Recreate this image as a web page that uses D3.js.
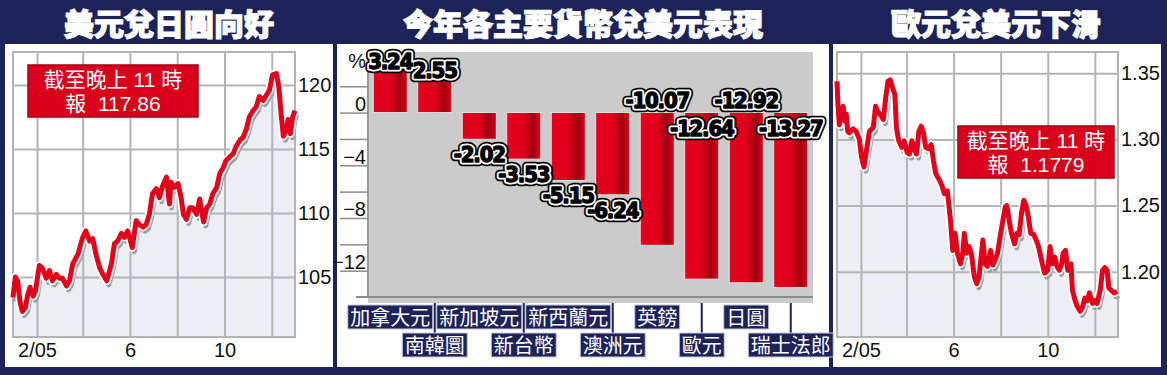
<!DOCTYPE html>
<html>
<head>
<meta charset="utf-8">
<script src="https://cdn.jsdelivr.net/npm/d3@7"></script>
<style>
  body { margin: 0; background: #fff; }
  svg { display: block; }
  text { font-family: "Liberation Sans", "Noto Sans CJK TC", sans-serif; }
</style>
</head>
<body>
<div id="chart"></div>
<script>
var titles = ['美元兌日圓向好', '今年各主要貨幣兌美元表現', '歐元兌美元下滑'];

// USD/JPY 2005
var jpyDates = ['01-01', '01-04', '01-07', '01-10', '01-13', '01-17', '01-20', '01-23', '01-27', '01-30',
    '02-04', '02-08', '02-13', '02-17', '02-21', '02-26', '03-02', '03-06', '03-11', '03-15',
    '03-19', '03-26', '04-01', '04-05', '04-10', '04-14', '04-18', '04-23', '04-27', '05-02',
    '05-08', '05-12', '05-16', '05-21', '05-25', '05-29', '06-04', '06-09', '06-13', '06-18',
    '06-22', '06-26', '06-30', '07-05', '07-09', '07-13', '07-18', '07-22', '07-24', '07-28',
    '08-02', '08-06', '08-09', '08-13', '08-17', '08-21', '08-26', '08-30', '09-04', '09-08',
    '09-12', '09-16', '09-21', '09-25', '09-29', '10-03', '10-08', '10-12', '10-16', '10-21',
    '10-25', '10-29', '11-02', '11-07', '11-11', '11-15', '11-20', '11-24', '11-28', '12-02',
    '12-07', '12-10', '12-13', '12-16', '12-20', '12-22', '12-25', '12-28', '12-31'];
var jpyValues = [103.4, 105.0, 104.7, 103.1, 102.3, 102.6, 103.6, 104.2, 103.5, 103.9,
    105.9, 105.7, 104.9, 105.5, 104.7, 105.2, 104.9, 104.9, 104.3, 104.7,
    106.0, 106.8, 108.1, 108.6, 107.8, 108.0, 106.8, 105.7, 105.2, 104.7,
    106.0, 107.6, 107.8, 108.4, 108.1, 108.6, 107.3, 109.4, 109.1, 108.9,
    109.1, 109.9, 111.5, 111.9, 111.2, 112.1, 112.8, 110.7, 112.4, 112.0,
    112.3, 111.2, 109.9, 109.5, 110.4, 110.4, 109.9, 111.1, 109.3, 110.4,
    110.7, 111.5, 112.0, 113.1, 113.5, 114.1, 114.4, 114.6, 115.2, 115.7,
    115.9, 116.5, 117.5, 118.0, 118.3, 119.1, 118.8, 119.2, 119.6, 120.8,
    120.9, 119.9, 117.8, 116.0, 116.5, 117.3, 116.2, 117.5, 118.0];
var jpyTicks = [105, 110, 115, 120];

// EUR/USD 2005
var eurDates = ['01-01', '01-02', '01-04', '01-07', '01-09', '01-11', '01-13', '01-15', '01-17', '01-22',
    '01-26', '01-30', '02-02', '02-05', '02-08', '02-12', '02-17', '02-20', '02-23', '02-27',
    '03-02', '03-05', '03-08', '03-11', '03-14', '03-17', '03-19', '03-22', '03-26', '03-29',
    '04-02', '04-05', '04-08', '04-11', '04-14', '04-17', '04-20', '04-23', '04-26', '04-29',
    '05-03', '05-06', '05-09', '05-14', '05-17', '05-20', '05-24', '05-28', '05-31', '06-03',
    '06-06', '06-10', '06-13', '06-15', '06-18', '06-21', '06-24', '06-28', '07-01', '07-04',
    '07-09', '07-12', '07-15', '07-19', '07-22', '07-25', '07-28', '08-01', '08-04', '08-07',
    '08-09', '08-12', '08-15', '08-19', '08-22', '08-25', '08-28', '08-31', '09-03', '09-06',
    '09-09', '09-13', '09-16', '09-19', '09-21', '09-24', '09-27', '10-01', '10-04', '10-07',
    '10-10', '10-13', '10-16', '10-19', '10-21', '10-24', '10-27', '10-31', '11-02', '11-05',
    '11-08', '11-12', '11-15', '11-18', '11-21', '11-24', '11-28', '12-01', '12-04', '12-08',
    '12-11', '12-14', '12-17', '12-19', '12-22', '12-26', '12-30'];
var eurValues = [1.344, 1.329, 1.311, 1.321, 1.325, 1.314, 1.319, 1.306, 1.305, 1.308,
    1.306, 1.300, 1.286, 1.279, 1.291, 1.306, 1.309, 1.325, 1.321, 1.318,
    1.315, 1.331, 1.344, 1.345, 1.339, 1.334, 1.309, 1.299, 1.294, 1.299,
    1.290, 1.289, 1.299, 1.293, 1.289, 1.306, 1.310, 1.305, 1.294, 1.293,
    1.296, 1.284, 1.274, 1.269, 1.265, 1.259, 1.261, 1.239, 1.216, 1.229,
    1.214, 1.206, 1.214, 1.229, 1.214, 1.219, 1.214, 1.196, 1.191, 1.196,
    1.224, 1.206, 1.204, 1.216, 1.205, 1.209, 1.214, 1.229, 1.239, 1.249,
    1.250, 1.239, 1.229, 1.221, 1.229, 1.228, 1.244, 1.254, 1.250, 1.241,
    1.229, 1.228, 1.224, 1.219, 1.214, 1.206, 1.199, 1.201, 1.219, 1.206,
    1.211, 1.204, 1.201, 1.206, 1.214, 1.216, 1.201, 1.206, 1.186, 1.179,
    1.174, 1.170, 1.173, 1.180, 1.178, 1.184, 1.176, 1.178, 1.176, 1.186,
    1.201, 1.203, 1.201, 1.188, 1.186, 1.184, 1.185];
var eurTicks = [1.20, 1.25, 1.30, 1.35];

var monthLabels = ['2/05', '6', '10'];

// year-to-date change against USD, %
var currencies = ['加拿大元', '南韓圜', '新加坡元', '新台幣', '新西蘭元', '澳洲元', '英鎊', '歐元', '日圓', '瑞士法郎'];
var changes = [3.24, 2.55, -2.02, -3.53, -5.15, -6.24, -10.07, -12.64, -12.92, -13.27];
var changeTicks = [0, -4, -8, -12];

var navy = '#1d2259',
    red = '#e2001a',
    width = 1167,
    height = 375,
    parseDay = d3.timeParse('%Y-%m-%d');

var svg = d3.select('#chart').append('svg')
    .attr('width', width)
    .attr('height', height);

svg.append('rect')
    .attr('width', width)
    .attr('height', height)
    .attr('fill', navy);

var defs = svg.append('defs');
var grad = defs.append('linearGradient')
    .attr('id', 'barGrad')
    .attr('x1', 0).attr('x2', 1).attr('y1', 0).attr('y2', 0);
[[0, '#e4001c'], [0.5, '#e0001b'], [0.78, '#a0000f'], [0.92, '#c90019'], [1, '#de001b']].forEach(function(s) {
    grad.append('stop').attr('offset', s[0]).attr('stop-color', s[1]);
});

// white panel bodies and title text
var panels = [[5, 333], [337, 829], [833, 1161]];
var titleX = [169, 583, 996];

svg.selectAll('.panel')
    .data(panels)
    .enter().append('rect')
    .attr('class', 'panel')
    .attr('x', function(d) { return d[0]; })
    .attr('y', 44)
    .attr('width', function(d) { return d[1] - d[0]; })
    .attr('height', 323)
    .attr('fill', '#fff');

svg.selectAll('.title')
    .data(titles)
    .enter().append('text')
    .attr('class', 'title')
    .attr('x', function(d, i) { return titleX[i]; })
    .attr('y', 35)
    .attr('text-anchor', 'middle')
    .attr('fill', '#fff')
    .attr('stroke', '#fff')
    .attr('stroke-width', 1.2)
    .style('font-family', '"Noto Sans CJK TC", sans-serif')
    .style('font-weight', 900)
    .style('font-size', '30px')
    .text(function(d) { return d; });

function drawLinePanel(o) {
    var top = 52, bottom = 337;
    var g = svg.append('g');

    var x = d3.scaleTime()
        .domain([parseDay('2005-01-01'), parseDay('2005-12-31')])
        .range([o.left, o.right]);
    var y = d3.scaleLinear().domain(o.domain).range([bottom, top]);

    var data = o.dates.map(function(d, i) {
        return { date: parseDay('2005-' + d), value: o.values[i] };
    });

    g.append('path')
        .datum(data)
        .attr('fill', '#eceef3')
        .attr('d', d3.area()
            .x(function(d) { return x(d.date); })
            .y0(bottom)
            .y1(function(d) { return y(d.value); }));

    // grid
    var months = d3.timeMonth.range(parseDay('2005-02-01'), parseDay('2005-12-31'), 2);

    g.append('g')
        .attr('transform', 'translate(0,' + bottom + ')')
        .call(d3.axisBottom(x).tickValues(months).tickSize(-(bottom - top)).tickFormat(''))
        .call(function(a) {
            a.select('.domain').remove();
            a.selectAll('line').attr('stroke', '#b4b4b4').attr('stroke-width', 2);
        });

    g.append('g')
        .attr('transform', 'translate(' + o.left + ',0)')
        .call(d3.axisLeft(y).tickValues(o.ticks).tickSize(-(o.right - o.left)).tickFormat(''))
        .call(function(a) {
            a.select('.domain').remove();
            a.selectAll('line').attr('stroke', '#b4b4b4').attr('stroke-width', 2);
        });

    g.append('rect')
        .attr('x', o.left)
        .attr('y', top)
        .attr('width', o.right - o.left)
        .attr('height', bottom - top)
        .attr('fill', 'none')
        .attr('stroke', '#b4b4b4')
        .attr('stroke-width', 2);

    // tick labels
    g.append('g')
        .attr('transform', 'translate(' + o.right + ',0)')
        .call(d3.axisRight(y).tickValues(o.ticks).tickSize(0).tickPadding(3).tickFormat(o.format))
        .call(function(a) {
            a.select('.domain').remove();
            a.selectAll('text')
                .attr('fill', '#111')
                .style('font-family', '"Liberation Sans", sans-serif')
                .style('font-size', '20px');
        });

    g.append('g')
        .attr('transform', 'translate(0,' + bottom + ')')
        .call(d3.axisBottom(x)
            .tickValues([months[0], months[2], months[4]])
            .tickSize(0)
            .tickPadding(6)
            .tickFormat(function(d, i) { return monthLabels[i]; }))
        .call(function(a) {
            a.select('.domain').remove();
            a.selectAll('text')
                .attr('fill', '#111')
                .style('font-family', '"Liberation Sans", sans-serif')
                .style('font-size', '20px');
        });

    // the line: shadow, white halo, red
    var line = d3.line()
        .x(function(d) { return x(d.date); })
        .y(function(d) { return y(d.value); });

    g.append('path')
        .datum(data)
        .attr('d', line)
        .attr('transform', 'translate(2,4)')
        .attr('fill', 'none')
        .attr('stroke', '#9d9d9d')
        .attr('stroke-width', 5)
        .attr('stroke-linejoin', 'round');

    g.append('path')
        .datum(data)
        .attr('d', line)
        .attr('fill', 'none')
        .attr('stroke', '#fff')
        .attr('stroke-width', 8.5)
        .attr('stroke-linejoin', 'round');

    g.append('path')
        .datum(data)
        .attr('d', line)
        .attr('fill', 'none')
        .attr('stroke', red)
        .attr('stroke-width', 5)
        .attr('stroke-linejoin', 'round');

    // last price box
    var box = g.append('g').attr('transform', 'translate(' + o.box[0] + ',' + o.box[1] + ')');
    box.append('rect')
        .attr('width', o.box[2])
        .attr('height', 52)
        .attr('fill', '#d8001b')
        .attr('stroke', '#a20014')
        .attr('stroke-width', 1.5);
    box.selectAll('text')
        .data(o.note)
        .enter().append('text')
        .attr('x', o.box[2] / 2)
        .attr('y', function(d, i) { return 22 + i * 24; })
        .attr('text-anchor', 'middle')
        .attr('fill', '#fff')
        .style('font-size', '21px')
        .style('white-space', 'pre')
        .text(function(d) { return d; });
}

drawLinePanel({
    left: 13, right: 295,
    domain: [100.31, 122.58],
    dates: jpyDates, values: jpyValues,
    ticks: jpyTicks,
    format: d3.format('d'),
    box: [28, 65, 170],
    note: ['截至晚上 11 時', '報  117.86']
});

drawLinePanel({
    left: 837, right: 1118,
    domain: [1.1506, 1.3661],
    dates: eurDates, values: eurValues,
    ticks: eurTicks,
    format: d3.format('.2f'),
    box: [958, 126, 156],
    note: ['截至晚上 11 時', '報  1.1779']
});

// bar chart
(function() {
    var left = 368, right = 813, top = 52, bottom = 297;
    var g = svg.append('g');

    var x = d3.scaleBand()
        .domain(currencies)
        .range([left, right])
        .paddingInner(0.236)
        .paddingOuter(0.118);
    var y = d3.scaleLinear().domain([-14, 4.6]).range([bottom, top]);

    g.append('rect')
        .attr('x', left)
        .attr('y', top)
        .attr('width', right - left)
        .attr('height', bottom - top + 6)
        .attr('fill', '#cbcbcb');

    g.append('line')
        .attr('x1', left).attr('x2', left)
        .attr('y1', top).attr('y2', bottom)
        .attr('stroke', '#9a9a9a')
        .attr('stroke-width', 2);

    g.append('g')
        .attr('transform', 'translate(' + left + ',0)')
        .call(d3.axisLeft(y).tickValues(d3.range(-12, 3, 2)).tickSize(28).tickFormat(''))
        .call(function(a) {
            a.select('.domain').remove();
            a.selectAll('line').attr('stroke', '#8c8c8c').attr('stroke-width', 1.5);
        });

    g.append('line')
        .attr('x1', 356).attr('x2', right)
        .attr('y1', y(-14)).attr('y2', y(-14))
        .attr('stroke', '#8c8c8c')
        .attr('stroke-width', 2);

    g.append('g')
        .attr('transform', 'translate(' + (left - 2) + ',0)')
        .call(d3.axisLeft(y).tickValues(changeTicks).tickSize(0).tickPadding(0).tickFormat(d3.format('d')))
        .call(function(a) {
            a.select('.domain').remove();
            a.selectAll('text')
                .attr('dy', -2)
                .attr('fill', '#111')
                .style('font-family', '"Liberation Sans", sans-serif')
                .style('font-size', '20px');
        });

    g.append('text')
        .attr('x', left - 2)
        .attr('y', 68)
        .attr('text-anchor', 'end')
        .attr('fill', '#111')
        .style('font-size', '20px')
        .text('%');

    g.selectAll('.bar')
        .data(changes)
        .enter().append('rect')
        .attr('class', 'bar')
        .attr('x', function(d, i) { return x(currencies[i]); })
        .attr('y', function(d) { return y(Math.max(0, d)); })
        .attr('width', x.bandwidth())
        .attr('height', function(d) { return Math.abs(y(d) - y(0)); })
        .attr('fill', 'url(#barGrad)')
        .attr('stroke', '#e6f4f4')
        .attr('stroke-width', 0.8);

    function labelY(d, i) {
        if (d > 0) return y(d) - 1;
        if (d > -8) return y(d) + 23;
        return i % 2 === 0 ? y(0) - 5 : y(0) + 23;
    }

    // value labels: black outer ring, white halo, heavy black figures
    [['#000', 8.5], ['#fff', 5], ['#000', 1.3]].forEach(function(layer, k) {
        g.selectAll('.val-' + k)
            .data(changes)
            .enter().append('text')
            .attr('class', 'val-' + k)
            .attr('x', function(d, i) { return x(currencies[i]) + x.bandwidth() / 2; })
            .attr('y', labelY)
            .attr('text-anchor', 'middle')
            .attr('fill', '#000')
            .attr('stroke', layer[0])
            .attr('stroke-width', layer[1])
            .attr('stroke-linejoin', 'round')
            .style('font-family', '"DejaVu Sans Condensed", "Liberation Sans Narrow", sans-serif')
            .style('font-weight', 'bold')
            .style('font-size', '22px')
            .style('letter-spacing', '-1.2px')
            .text(function(d) { return d.toFixed(2); });
    });

    // category tags in two staggered rows
    var tags = g.selectAll('.tag')
        .data(currencies)
        .enter().append('g')
        .attr('class', 'tag');

    tags.filter(function(d, i) { return i % 2 === 1; })
        .append('line')
        .attr('x1', function(d) { return x(d) + x.bandwidth() / 2; })
        .attr('x2', function(d) { return x(d) + x.bandwidth() / 2; })
        .attr('y1', bottom + 6)
        .attr('y2', 334)
        .attr('stroke', navy)
        .attr('stroke-width', 2);

    tags.append('rect');
    tags.append('text')
        .attr('x', function(d) { return x(d) + x.bandwidth() / 2; })
        .attr('y', function(d, i) { return (i % 2 ? 333 : 305) + 20; })
        .attr('text-anchor', 'middle')
        .attr('fill', '#fff')
        .style('font-family', '"Noto Sans CJK TC", sans-serif')
        .style('font-size', '20px')
        .text(function(d) { return d; });

    tags.each(function(d, i) {
        var t = d3.select(this).select('text').node();
        var w = t.getComputedTextLength() + 5;
        d3.select(this).select('rect')
            .attr('x', x(d) + x.bandwidth() / 2 - w / 2)
            .attr('y', i % 2 ? 333 : 305)
            .attr('width', w)
            .attr('height', 24)
            .attr('fill', navy)
            .attr('stroke', '#c9ccd9')
            .attr('stroke-width', 1);
    });
})();
</script>
</body>
</html>
